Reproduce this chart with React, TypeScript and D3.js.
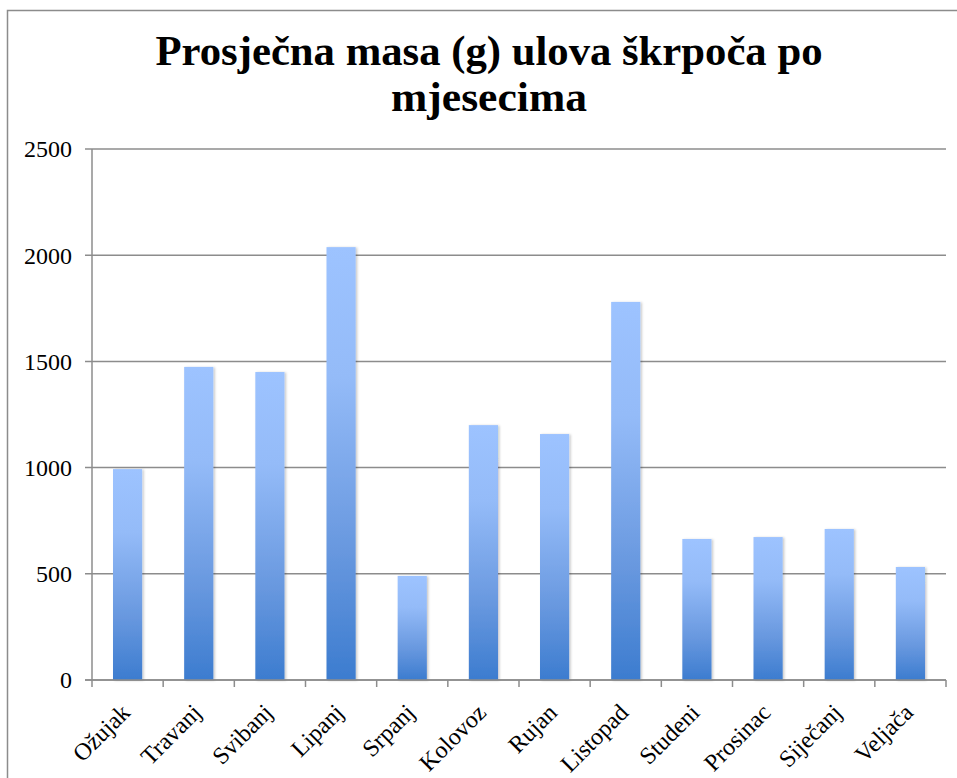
import * as d3 from 'd3';
import { useEffect, useRef } from 'react';

const months = [
  'Ožujak', 'Travanj', 'Svibanj', 'Lipanj', 'Srpanj', 'Kolovoz',
  'Rujan', 'Listopad', 'Studeni', 'Prosinac', 'Siječanj', 'Veljača',
];
const avgMass = [993, 1474, 1450, 2038, 490, 1200, 1158, 1780, 664, 673, 711, 532];
const yTicks = [0, 500, 1000, 1500, 2000, 2500];
const titleLines = ['Prosječna masa (g) ulova škrpoča po', 'mjesecima'];

export default function App() {
  const ref = useRef<SVGSVGElement>(null);

  useEffect(() => {
    const width = 957;
    const height = 778;
    const svg = d3.select(ref.current);
    svg.selectAll('*').remove();
    svg.attr('width', width).attr('height', height);

    const margin = { top: 149, right: 11, bottom: 98, left: 92 };
    const innerWidth = width - margin.left - margin.right;
    const innerHeight = height - margin.top - margin.bottom;
    const grid = '#8c8c8c';
    const font = '"Liberation Serif", "Times New Roman", serif';

    const defs = svg.append('defs');
    const grad = defs.append('linearGradient')
      .attr('id', 'barFill')
      .attr('x1', 0).attr('y1', 0).attr('x2', 0).attr('y2', 1);
    [
      [0, '#9dc3ff'],
      [0.3, '#94bbf8'],
      [0.7, '#6898df'],
      [1, '#3c7ccf'],
    ].forEach(([offset, color]) => {
      grad.append('stop').attr('offset', offset).attr('stop-color', color);
    });
    defs.append('filter')
      .attr('id', 'barShadow')
      .attr('x', '-20%').attr('y', '-5%').attr('width', '150%').attr('height', '115%')
      .append('feDropShadow')
      .attr('dx', 1.5).attr('dy', 0.5).attr('stdDeviation', 1.2)
      .attr('flood-color', '#000').attr('flood-opacity', 0.22);

    // chart frame (extends past the page edge)
    svg.append('rect')
      .attr('x', 7.5).attr('y', 10.5)
      .attr('width', 1000).attr('height', 900)
      .attr('fill', '#fff')
      .attr('stroke', grid)
      .attr('stroke-width', 1.5);

    svg.append('g')
      .selectAll('text')
      .data(titleLines)
      .enter()
      .append('text')
      .attr('x', 489)
      .attr('y', (_d, i) => 65 + i * 46)
      .attr('text-anchor', 'middle')
      .attr('textLength', (_d, i) => (i === 0 ? 667 : 196))
      .attr('lengthAdjust', 'spacingAndGlyphs')
      .style('font-family', font)
      .style('font-weight', 700)
      .style('font-size', '42px')
      .style('fill', '#000')
      .text((d) => d);

    const x = d3.scaleBand<string>()
      .domain(months)
      .range([0, innerWidth])
      .paddingInner(0.59)
      .paddingOuter(0.295);

    const y = d3.scaleLinear()
      .domain([0, 2500])
      .range([innerHeight, 0]);

    const root = svg.append('g')
      .attr('transform', `translate(${margin.left},${margin.top})`);

    // gridlines + y ticks
    root.append('g')
      .selectAll('line')
      .data(yTicks)
      .enter()
      .append('line')
      .attr('x1', -7)
      .attr('x2', innerWidth)
      .attr('y1', (d) => y(d))
      .attr('y2', (d) => y(d))
      .attr('stroke', grid)
      .attr('stroke-width', 1.5);

    root.append('g')
      .selectAll('text')
      .data(yTicks)
      .enter()
      .append('text')
      .attr('x', -20)
      .attr('y', (d) => y(d))
      .attr('dy', '0.35em')
      .attr('text-anchor', 'end')
      .style('font-family', font)
      .style('font-size', '24px')
      .style('fill', '#000')
      .text((d) => d);

    root.append('line')
      .attr('x1', 0).attr('x2', 0)
      .attr('y1', 0).attr('y2', innerHeight)
      .attr('stroke', grid)
      .attr('stroke-width', 1.5);

    // x tick marks on category boundaries
    const step = x.step();
    const boundaries = d3.range(months.length + 1).map((i) => i * step);
    root.append('g')
      .selectAll('line')
      .data(boundaries)
      .enter()
      .append('line')
      .attr('x1', (d) => d)
      .attr('x2', (d) => d)
      .attr('y1', innerHeight)
      .attr('y2', innerHeight + 7)
      .attr('stroke', grid)
      .attr('stroke-width', 1.5);

    root.append('g')
      .selectAll('rect')
      .data(months)
      .enter()
      .append('rect')
      .attr('x', (d) => x(d) ?? 0)
      .attr('width', x.bandwidth())
      .attr('y', (_d, i) => y(avgMass[i]))
      .attr('height', (_d, i) => innerHeight - y(avgMass[i]))
      .attr('fill', 'url(#barFill)')
      .attr('filter', 'url(#barShadow)');

    root.append('line')
      .attr('x1', -7).attr('x2', innerWidth)
      .attr('y1', innerHeight).attr('y2', innerHeight)
      .attr('stroke', grid)
      .attr('stroke-width', 1.5);

    root.append('g')
      .selectAll('text')
      .data(months)
      .enter()
      .append('text')
      .attr('transform', (d) => {
        const cx = (x(d) ?? 0) + x.bandwidth() / 2 + 4;
        return `translate(${cx},${innerHeight + 34}) rotate(-45)`;
      })
      .attr('text-anchor', 'end')
      .style('font-family', font)
      .style('font-size', '24px')
      .style('fill', '#000')
      .text((d) => d);

    return () => {
      svg.selectAll('*').remove();
    };
  }, []);

  return (
    <svg
      ref={ref}
      role="img"
      aria-label={titleLines.join(' ')}
      style={{ position: 'absolute', left: 0, top: 0, display: 'block' }}
    />
  );
}
